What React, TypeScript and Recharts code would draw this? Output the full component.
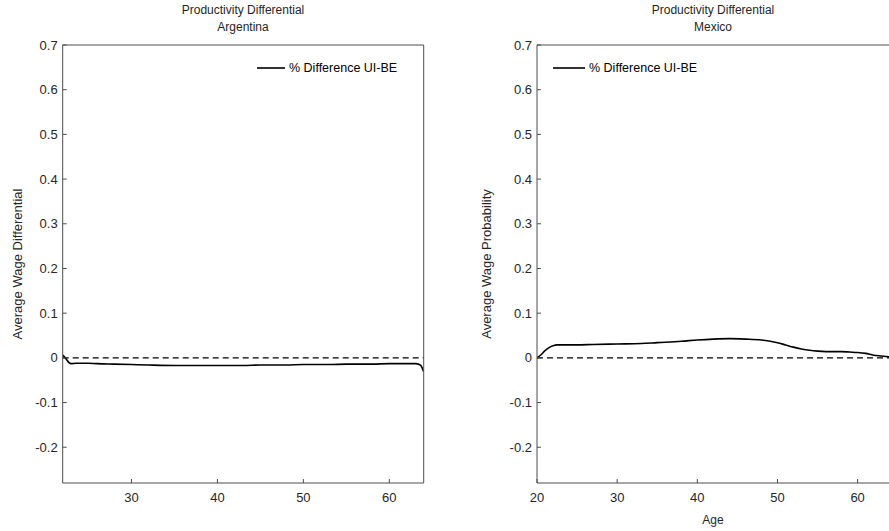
import React from 'react';
import { LineChart, Line, XAxis, YAxis, ReferenceLine } from 'recharts';

// Argentina: % Difference UI-BE by age
const argAges = [22, 22.3, 22.7, 23, 23.5, 24, 25, 26, 28, 30, 32, 35, 38, 40, 43, 45, 48, 50, 53, 55, 58, 60, 62, 63, 63.6, 64];
const argValues = [0.006, 0.0, -0.01, -0.013, -0.012, -0.012, -0.012, -0.013, -0.014, -0.015, -0.016, -0.017, -0.017, -0.017, -0.017, -0.016, -0.016, -0.015, -0.015, -0.014, -0.014, -0.013, -0.013, -0.013, -0.016, -0.031];

// Mexico: % Difference UI-BE by age
const mexAges = [20, 20.5, 21, 21.5, 22, 22.5, 23, 25, 27, 30, 33, 35, 38, 40, 42, 44, 46, 48, 50, 51, 52, 53, 54, 55, 56, 57, 58, 59, 60, 61, 62, 63, 64];
const mexValues = [0, 0.007, 0.016, 0.023, 0.027, 0.029, 0.029, 0.029, 0.030, 0.031, 0.032, 0.034, 0.037, 0.040, 0.042, 0.043, 0.042, 0.040, 0.034, 0.029, 0.024, 0.020, 0.017, 0.015, 0.014, 0.014, 0.014, 0.013, 0.012, 0.010, 0.006, 0.004, 0.002];

const yTicks = [-0.2, -0.1, 0, 0.1, 0.2, 0.3, 0.4, 0.5, 0.6, 0.7];
const argXTicks = [30, 40, 50, 60];
const mexXTicks = [20, 30, 40, 50, 60];

const argData = argAges.map((a, i) => ({ age: a, v: argValues[i] }));
const mexData = mexAges.map((a, i) => ({ age: a, v: mexValues[i] }));

const FONT = '"Liberation Sans", Arial, Helvetica, sans-serif';
const AX = '#4d4d4d';
const TXT = '#262626';
const tickStyle = { fontSize: 13, fill: TXT, fontFamily: FONT };
const fmtY = (v: number) => (Math.abs(v) < 1e-9 ? '0' : v.toFixed(1));

function Panel(props: {
  data: { age: number; v: number }[];
  domain: [number, number];
  xTicks: number[];
  width: number;
  leftW: number;
  rightW: number;
}) {
  const { data, domain, xTicks, width, leftW, rightW } = props;
  return (
    <LineChart width={width} height={531} data={data} margin={{ top: 25, right: 0, bottom: 18, left: 0 }}>
      <XAxis
        xAxisId="b"
        dataKey="age"
        type="number"
        domain={domain}
        ticks={xTicks}
        allowDataOverflow
        height={30}
        stroke={AX}
        tickSize={-4}
        tickMargin={14}
        tick={tickStyle}
      />
      <XAxis
        xAxisId="t"
        orientation="top"
        dataKey="age"
        type="number"
        domain={domain}
        ticks={xTicks}
        allowDataOverflow
        height={20}
        stroke={AX}
        tickSize={-4}
        tick={false}
      />
      <YAxis
        yAxisId="l"
        type="number"
        domain={[-0.28, 0.7]}
        ticks={yTicks}
        allowDataOverflow
        width={leftW}
        stroke={AX}
        tickSize={-4}
        tickMargin={9}
        tick={tickStyle}
        tickFormatter={fmtY}
        interval={0}
      />
      <YAxis
        yAxisId="r"
        orientation="right"
        type="number"
        domain={[-0.28, 0.7]}
        ticks={yTicks}
        allowDataOverflow
        width={rightW}
        stroke={AX}
        tickSize={-4}
        tick={false}
        interval={0}
      />
      <ReferenceLine xAxisId="b" yAxisId="l" y={0} stroke="#000" strokeWidth={1.3} strokeDasharray="6 4" />
      <Line
        xAxisId="b"
        yAxisId="l"
        dataKey="v"
        type="monotone"
        stroke="#000"
        strokeWidth={1.6}
        dot={false}
        isAnimationActive={false}
      />
    </LineChart>
  );
}

const txt = (extra: React.CSSProperties): React.CSSProperties => ({
  position: 'absolute',
  fontFamily: FONT,
  fontSize: 12,
  color: TXT,
  whiteSpace: 'nowrap',
  lineHeight: '15px',
  transform: 'translate(-50%, -50%)',
  ...extra,
});

function LegendItem({ left, top, lineW }: { left: number; top: number; lineW: number }) {
  return (
    <div style={{ position: 'absolute', left, top: top - 8, height: 16, display: 'flex', alignItems: 'center' }}>
      <svg width={lineW} height={16} style={{ display: 'block' }}>
        <line x1={0} y1={8} x2={lineW} y2={8} stroke="#000" strokeWidth={1.6} />
      </svg>
      <span style={{ fontFamily: FONT, fontSize: 12.5, color: '#000', marginLeft: 4 }}>% Difference UI-BE</span>
    </div>
  );
}

export default function App() {
  return (
    <div style={{ position: 'absolute', left: 0, top: 0, width: 889, height: 531, overflow: 'hidden', background: '#fff' }}>
      <div style={{ position: 'absolute', left: 0, top: 0 }}>
        <Panel data={argData} domain={[22, 64]} xTicks={argXTicks} width={440} leftW={62.7} rightW={16.3} />
      </div>
      <div style={{ position: 'absolute', left: 440, top: 0 }}>
        <Panel data={mexData} domain={[20, 64]} xTicks={mexXTicks} width={460} leftW={97} rightW={10.3} />
      </div>
      <div style={txt({ left: 243, top: 10 })}>Productivity Differential</div>
      <div style={txt({ left: 243, top: 27 })}>Argentina</div>
      <div style={txt({ left: 713, top: 10 })}>Productivity Differential</div>
      <div style={txt({ left: 713, top: 27 })}>Mexico</div>
      <div style={txt({ left: 17, top: 264, fontSize: 13, transform: 'translate(-50%, -50%) rotate(-90deg)' })}>Average Wage Differential</div>
      <div style={txt({ left: 486, top: 264, fontSize: 13, transform: 'translate(-50%, -50%) rotate(-90deg)' })}>Average Wage Probability</div>
      <div style={txt({ left: 713, top: 520 })}>Age</div>
      <LegendItem left={257} top={68} lineW={28} />
      <LegendItem left={553} top={68} lineW={32} />
    </div>
  );
}
